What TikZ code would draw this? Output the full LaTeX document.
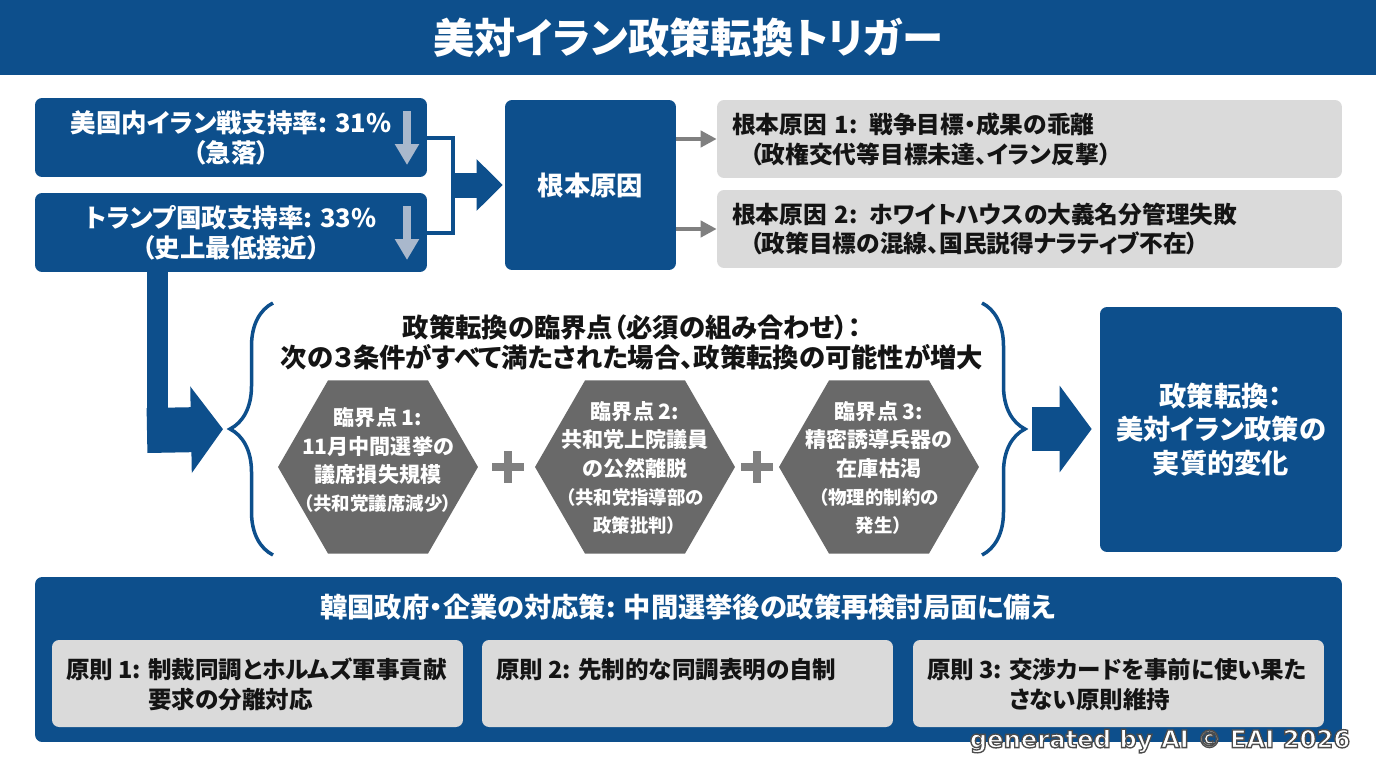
\documentclass[tikz,border=0pt]{standalone}
\usepackage{fontspec}
\setmainfont{Noto Sans CJK JP}[RawFeature=+palt]
\newfontfamily\markfont{DejaVu Sans}
\usepackage{xcolor}
\usepackage{tikz}
\usetikzlibrary{shapes,arrows.meta,decorations.pathreplacing}
\definecolor{navy}{HTML}{0D4F8C}
\definecolor{paleblue}{HTML}{A9B8CC}
\definecolor{panelgray}{HTML}{DADADA}
\definecolor{hexgray}{HTML}{696969}
\definecolor{pointgray}{HTML}{808080}
\definecolor{ink}{HTML}{141414}
\newcommand{\subnote}{\fontsize{10.5}{14}\selectfont}
\newcommand{\rimtext}[1]{{\color{white}\special{pdf:code 2 Tr 0.75 w 0.3 0.3 0.3 RG}#1\special{pdf:code 0 Tr}}}
\tikzstyle{titlebar} = [rectangle, fill=navy, text=white, inner sep=0pt,
    minimum width=27.52cm, minimum height=1.5cm, font=\fontsize{23.5}{27}\selectfont\bfseries]
\tikzstyle{navybox} = [rectangle, fill=navy, text=white, rounded corners=0.14cm,
    align=center, inner sep=0pt]
\tikzstyle{causebox} = [rectangle, fill=panelgray, text=ink, rounded corners=0.14cm,
    text width=11.9cm, inner xsep=0.3cm, minimum height=1.56cm, align=left,
    font=\fontsize{13.5}{17}\selectfont\bfseries]
\tikzstyle{rulebox} = [rectangle, fill=panelgray, rounded corners=0.14cm,
    minimum width=8.22cm, minimum height=1.74cm, inner sep=0pt]
\tikzstyle{ruletext} = [anchor=north west, inner sep=0pt, text=ink, align=left,
    font=\fontsize{13.4}{17}\selectfont\bfseries]
\tikzstyle{hexa} = [regular polygon, regular polygon sides=6, fill=hexgray,
    minimum size=4cm, inner sep=0pt]
\tikzstyle{hexlabel} = [text=white, align=center, inner sep=0pt,
    font=\fontsize{12}{16}\selectfont\bfseries]
\tikzstyle{plussign} = [rectangle, minimum size=0.64cm, inner sep=0pt,
    path picture={\draw[pointgray, line width=0.17cm]
      (path picture bounding box.north) -- (path picture bounding box.south)
      (path picture bounding box.west) -- (path picture bounding box.east);}]
\tikzstyle{drop} = [draw=paleblue, line width=0.16cm, -{Triangle[width=0.46cm,length=0.42cm]}]
\tikzstyle{bracket} = [draw=navy, line width=0.08cm]
\tikzstyle{fatarrow} = [draw=navy, line width=0.5cm, -{Triangle[width=1cm,length=0.52cm]}]
\tikzstyle{thinarrow} = [draw=pointgray, line width=0.09cm, -{Triangle[width=0.32cm,length=0.32cm]}]
\tikzstyle{curly} = [draw=navy, line width=0.07cm, decorate, decoration={brace, amplitude=0.86cm}]
\tikzstyle{stamp} = [inner sep=0pt, font=\markfont\bfseries\fontsize{13.8}{16}\selectfont]
\begin{document}
\begin{tikzpicture}[x=0.02cm, y=-0.02cm]
	\useasboundingbox[fill=white] (0,0) rectangle (1376,768);
	% Place nodes
	\node [titlebar] (title) at (688,37.5) {美対イラン政策転換トリガー};

	\node [navybox, minimum width=7.84cm, minimum height=1.58cm, font=\fontsize{14.5}{17}\selectfont\bfseries] (popA) at (231,137.5) {美国内イラン戦支持率: 31\%\\（急落）};
	\node [navybox, minimum width=7.84cm, minimum height=1.58cm, font=\fontsize{14.5}{17}\selectfont\bfseries] (popB) at (231,232.5) {トランプ国政支持率: 33\%\\（史上最低接近）};
	\node [navybox, minimum width=3.42cm, minimum height=3.4cm, font=\fontsize{15}{18}\selectfont\bfseries] (root) at (590.5,185) {根本原因};
	\node [causebox] (cause1) at (1029.5,139) {根本原因 1: 戦争目標・成果の乖離\\\hspace*{0.75em}（政権交代等目標未達、イラン反撃）};
	\node [causebox] (cause2) at (1029.5,229) {根本原因 2: ホワイトハウスの大義名分管理失敗\\\hspace*{0.75em}（政策目標の混線、国民説得ナラティブ不在）};

	\node [align=center, text=ink, font=\fontsize{15}{17}\selectfont\bfseries] (critHead) at (632,342) {政策転換の臨界点（必須の組み合わせ）：\\次の３条件がすべて満たされた場合、政策転換の可能性が増大};
	\node [hexa] (crit1) at (378,467) {};
	\node [hexa] (crit2) at (635,467) {};
	\node [hexa] (crit3) at (879,467) {};
	\node [hexlabel] (crit1text) at (378,460) {臨界点 1:\\11月中間選挙の\\議席損失規模\\{\subnote （共和党議席減少）}};
	\node [hexlabel] (crit2text) at (635,468) {臨界点 2:\\共和党上院議員\\の公然離脱\\{\subnote （共和党指導部の}\\{\subnote 政策批判）}};
	\node [hexlabel] (crit3text) at (879,468) {臨界点 3:\\精密誘導兵器の\\在庫枯渇\\{\subnote （物理的制約の}\\{\subnote 発生）}};
	\node [plussign] (plus1) at (508,467) {};
	\node [plussign] (plus2) at (757,467) {};
	\node [navybox, minimum width=4.84cm, minimum height=4.9cm, font=\fontsize{15.5}{19}\selectfont\bfseries] (final) at (1221,429.5) {政策転換：\\美対イラン政策の\\実質的変化};

	\node [navybox, minimum width=26.14cm, minimum height=3.3cm] (response) at (688.5,659.5) {};
	\node [text=white, font=\fontsize{15.5}{18}\selectfont\bfseries] (responseHead) at (688,607) {韓国政府・企業の対応策: 中間選挙後の政策再検討局面に備え};
	\node [rulebox] (rule1) at (257.5,683.5) {};
	\node [rulebox] (rule2) at (687.5,683.5) {};
	\node [rulebox] (rule3) at (1118.5,683.5) {};
	\node [ruletext] (rule1text) at ([xshift=0.28cm,yshift=-0.36cm]rule1.north west) {原則 1: 制裁同調とホルムズ軍事貢献\\\phantom{原則 1: }要求の分離対応};
	\node [ruletext] (rule2text) at ([xshift=0.28cm,yshift=-0.36cm]rule2.north west) {原則 2: 先制的な同調表明の自制};
	\node [ruletext] (rule3text) at ([xshift=0.28cm,yshift=-0.36cm]rule3.north west) {原則 3: 交渉カードを事前に使い果た\\\phantom{原則 3: }さない原則維持};

	% helper points
	\coordinate (join) at (453,185);
	\coordinate (elbow) at (157.5,430.5);
	\coordinate (lbTop) at (273,303);
	\coordinate (lbBot) at (273,555);
	\coordinate (lbTip) at (230,429);
	\coordinate (rbTop) at (982,303);
	\coordinate (rbBot) at (982,555);
	\coordinate (rbTip) at (1025,429);

	\path [drop] (407,111) coordinate (dropA1) -- (407,165) coordinate (dropA2);
	\path [drop] (407,206) coordinate (dropB1) -- (407,260) coordinate (dropB2);
	\path [bracket] (popA.east) -| (join) |- (popB.east);
	\path [fatarrow, shorten >=0.04cm] (join) -- (root.west);
	\path [thinarrow] (root.east |- cause1) -- (cause1.west);
	\path [thinarrow] (root.east |- cause2) -- (cause2.west);

	\path [draw=navy, line width=0.42cm] (popB.south -| elbow) -- (elbow);
	\path [fatarrow, line width=0.9cm, -{Triangle[width=1.7cm,length=0.64cm]}, shorten >=0.14cm] ([xshift=-0.21cm]elbow) -- (lbTip);
	\path [curly] (lbBot) -- (lbTop);
	\path [curly] (rbTop) -- (rbBot);
	\path [fatarrow, line width=0.88cm, -{Triangle[width=1.7cm,length=0.64cm]}, shorten <=0.14cm, shorten >=0.16cm] (rbTip) -- (rbTip -| final.west);

	% outlined watermark
	\node [stamp] (mark) at (1160,741) {\rimtext{generated by AI © EAI 2026}};
\end{tikzpicture}
\end{document}
